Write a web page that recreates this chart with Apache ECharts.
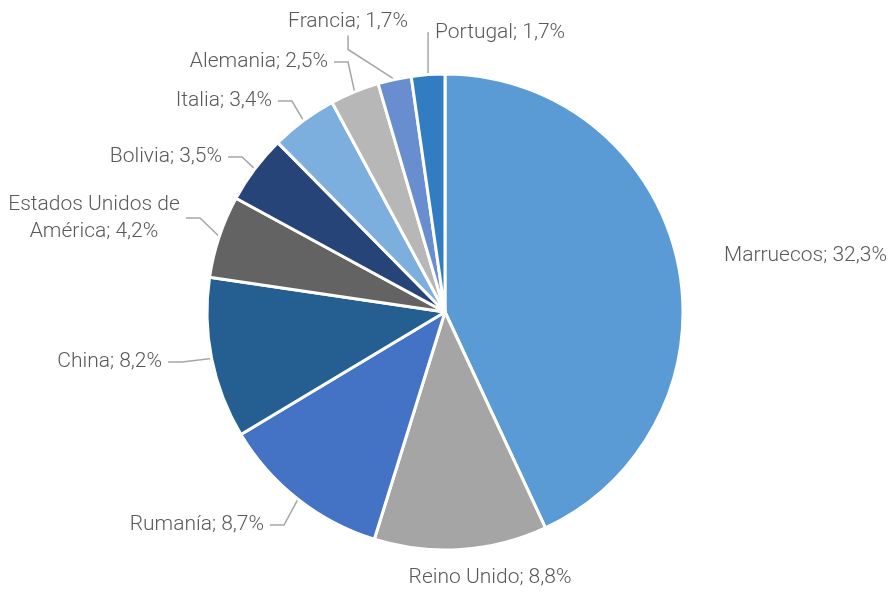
<!DOCTYPE html>
<html>
<head>
<meta charset="utf-8">
<script src="https://cdn.jsdelivr.net/npm/echarts@6/dist/echarts.min.js"></script>
<style>
  html, body { margin: 0; padding: 0; background: #fff; }
  #chart { width: 892px; height: 592px; }
</style>
</head>
<body>
<div id="chart"></div>
<script>
// datos: país de origen y porcentaje
const paises = ['Marruecos', 'Reino Unido', 'Rumanía', 'China', 'Estados Unidos de\nAmérica', 'Bolivia', 'Italia', 'Alemania', 'Francia', 'Portugal'];
const valores = [32.3, 8.8, 8.7, 8.2, 4.2, 3.5, 3.4, 2.5, 1.7, 1.7];
const colores = ['#5B9BD5', '#A5A5A5', '#4472C4', '#255E91', '#636363', '#264478', '#7CAFDD', '#B7B7B7', '#698ED0', '#327DC2'];

// dónde va cada etiqueta (x, y, alineación) - incluye el padding de 6px
const posEtiquetas = [
  [718, 256, 'left'],
  [490, 578, 'center'],
  [270, 525, 'right'],
  [168, 362, 'right'],
  [94, 218, 'center'],
  [228, 157, 'right'],
  [278, 101, 'right'],
  [334, 62, 'right'],
  [414, 22, 'right'],
  [429, 33, 'left']
];
const sinLinea = [0, 1];

const chart = echarts.init(document.getElementById('chart'));

const option = {
  animation: false,
  series: [{
    type: 'pie',
    center: [445, 312],
    radius: 238,
    startAngle: 90,
    clockwise: true,
    itemStyle: { borderColor: '#fff', borderWidth: 3 },
    label: {
      show: true,
      color: '#595959',
      fontFamily: 'Roboto',
      fontWeight: 300,
      fontSize: 21,
      lineHeight: 27,
      padding: [0, 6],
      overflow: 'none',
      formatter: p => p.name + '; ' + p.value.toFixed(1).replace('.', ',') + '%'
    },
    labelLine: {
      show: true,
      length: 12,
      length2: 14,
      lineStyle: { color: '#A6A6A6', width: 1.5 }
    },
    labelLayout: function (params) {
      const p = posEtiquetas[params.dataIndex];
      return { x: p[0], y: p[1], align: p[2], verticalAlign: 'middle' };
    },
    data: paises.map((n, i) => ({
      name: n,
      value: valores[i],
      itemStyle: { color: colores[i] },
      labelLine: sinLinea.indexOf(i) >= 0 ? { show: false } : undefined
    }))
  }]
};
chart.setOption(option);
</script>
</body>
</html>
